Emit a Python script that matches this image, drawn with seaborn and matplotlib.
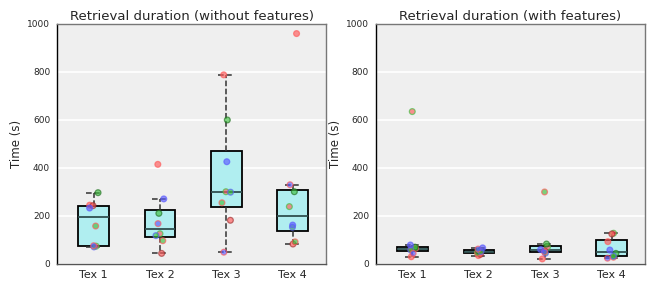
import numpy as np
import pandas as pd
import matplotlib
matplotlib.use("Agg")
import matplotlib.pyplot as plt
import seaborn as sns

tasks = ["Tex 1", "Tex 2", "Tex 3", "Tex 4"]
participants = ["P1", "P2", "P3", "P4", "P5", "P6", "P7", "P8"]

# time per participant (P1..P8) for each task
no_feat_tex1 = [245, 74, 243, 158, 297, 71, 76, 233]
no_feat_tex2 = [415, 126, 44, 97, 211, 118, 168, 271]
no_feat_tex3 = [788, 301, 182, 255, 600, 299, 49, 426]
no_feat_tex4 = [960, 239, 83, 92, 301, 153, 330, 162]

feat_tex1 = [30, 635, 61, 65, 70, 58, 44, 79]
feat_tex2 = [35, 48, 40, 45, 55, 52, 62, 67]
feat_tex3 = [21, 70, 55, 300, 83, 45, 50, 60]
feat_tex4 = [93, 128, 125, 28, 44, 33, 24, 58]

# face / edge colour of each participant's marker
red, green, blue = "#ff5a5a", "#3fbf3f", "#5a5aff"
face_cols = [red, red, red, green, green, green, blue, blue]
edge_cols = [red, green, "#a03030", red, "#207020", blue, red, blue]


def make_df(cols):
    rows = []
    for t, vals in zip(tasks, cols):
        for p, v in zip(participants, vals):
            rows.append((t, p, v))
    return pd.DataFrame(rows, columns=["task", "participant", "time"])


df_no = make_df([no_feat_tex1, no_feat_tex2, no_feat_tex3, no_feat_tex4])
df_with = make_df([feat_tex1, feat_tex2, feat_tex3, feat_tex4])

sns.set_style("white")
plt.rcParams["font.family"] = ["DejaVu Sans"]

fig, axes = plt.subplots(1, 2, figsize=(6.56, 2.82), dpi=100)
fig.subplots_adjust(left=0.087, right=0.983, top=0.915, bottom=0.064, wspace=0.186)

np.random.seed(7)
for ax, df, title in zip(axes, [df_no, df_with],
                         ["Retrieval duration (without features)",
                          "Retrieval duration (with features)"]):
    ax.set_facecolor("#efefef")
    ax.set_axisbelow(True)
    ax.yaxis.grid(True, color="white", linewidth=1.2)
    sns.boxplot(data=df, x="task", y="time", order=tasks, ax=ax, width=0.46,
                showfliers=False, whis=1.5,
                boxprops=dict(facecolor="#b0eef0", edgecolor="black", linewidth=1.3),
                medianprops=dict(color="#2f4f4f", linewidth=1.3),
                whiskerprops=dict(color="#333333", linestyle="--", linewidth=1.1),
                capprops=dict(color="#333333", linestyle="--", linewidth=1.1),
                capwidths=0.24)
    n_before = len(ax.collections)
    sns.stripplot(data=df, x="task", y="time", order=tasks, ax=ax,
                  hue="participant", hue_order=participants,
                  palette=dict(zip(participants, face_cols)), dodge=False,
                  linewidth=0.9, size=4.2, alpha=0.65, jitter=0.07,
                  legend=False, zorder=3)
    # each task's points come in participant order
    for coll in ax.collections[n_before:]:
        n = len(coll.get_offsets())
        coll.set_edgecolors(edge_cols[:n])
        coll.set_alpha(0.65)
    ax.set_ylim(0, 1000)
    ax.set_yticks([0, 200, 400, 600, 800, 1000])
    ax.set_xlim(-0.55, 3.5)
    ax.set_title(title, fontsize=9.5, pad=3)
    ax.set_xlabel("")
    ax.set_ylabel("Time (s)", fontsize=8.5, labelpad=3)
    ax.tick_params(axis="y", labelsize=6.5, length=3, width=0.8, color="#333333", pad=2)
    ax.tick_params(axis="x", labelsize=8, length=3, width=0.8, color="#333333", pad=1)
    for s in ["top", "right"]:
        ax.spines[s].set_color("#777777")
        ax.spines[s].set_linewidth(1.0)
    ax.spines["left"].set_color("black")
    ax.spines["left"].set_linewidth(1.0)
    ax.spines["bottom"].set_color("#555555")
    ax.spines["bottom"].set_linewidth(1.0)

fig.savefig("out.png", dpi=100)
